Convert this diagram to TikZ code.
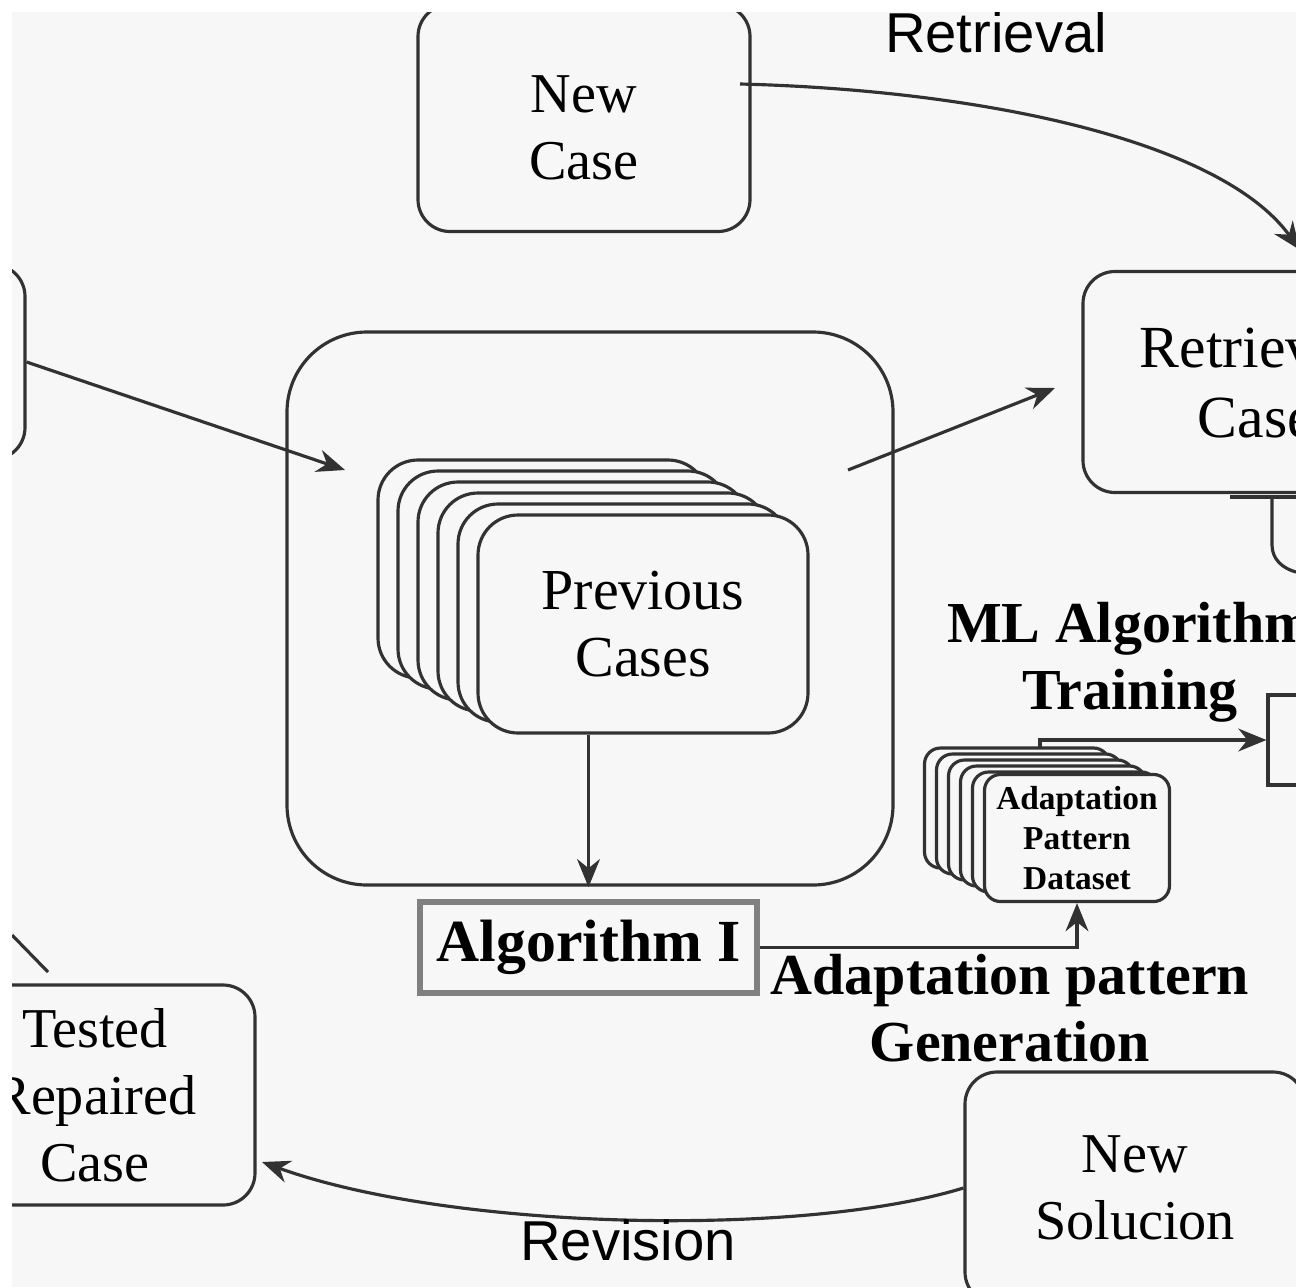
\documentclass[tikz,border=0pt]{standalone}
\usepackage{fontspec}
\setmainfont{Liberation Serif}
\newfontfamily\stagefont{Liberation Sans}
\usepackage{tikz}
\usetikzlibrary{arrows}
\usetikzlibrary{arrows.meta}
\pgfdeclarelayer{background}
\pgfdeclarelayer{edgelayer}
\pgfdeclarelayer{nodelayer}
\pgfsetlayers{background,edgelayer,nodelayer,main}
\definecolor{paper}{RGB}{247,247,247}
\definecolor{ink}{RGB}{50,50,50}
\tikzstyle{none}=[inner sep=0pt]
\tikzstyle{case}=[draw=ink, line width=0.9pt, rounded corners=0.32cm, align=center, font=\fontsize{16}{19}\selectfont]
\tikzstyle{sheet}=[case, fill=paper, minimum width=3.3cm, minimum height=2.18cm, rounded corners=0.4cm, font=\fontsize{16.5}{19}\selectfont]
\tikzstyle{smallsheet}=[case, fill=paper, minimum width=1.85cm, minimum height=1.2cm, rounded corners=0.16cm, font=\fontsize{9.5}{11.4}\selectfont\bfseries]
\tikzstyle{algo}=[draw=gray, line width=1.6pt, minimum width=3.37cm, minimum height=0.91cm, font=\fontsize{17}{20}\selectfont\bfseries]
\tikzstyle{stage}=[inner sep=0pt, font=\stagefont\fontsize{16}{19}\selectfont]
\tikzstyle{boldtext}=[inner sep=0pt, align=center, font=\fontsize{16.5}{19}\selectfont\bfseries]
\tikzstyle{plaintext}=[inner sep=0pt, align=center, font=\fontsize{16}{19}\selectfont]
\tikzstyle{flow}=[draw=ink, line width=0.9pt, -{Stealth[length=8pt,width=6.5pt]}]
\tikzstyle{wire}=[draw=ink, line width=0.9pt]

\begin{document}
\begin{tikzpicture}
	\useasboundingbox (0,0) rectangle (12.96,-12.87);
	\begin{pgfonlayer}{background}
		\fill [white] (0,0) rectangle (12.96,-12.87);
		\fill [paper] (0.12,-0.12) rectangle (12.96,-12.87);
	\end{pgfonlayer}
	\begin{pgfonlayer}{nodelayer}
		\node [style=case, minimum width=2.5cm, minimum height=1.95cm] (0) at (-1.0,-3.62) {};
		\node [style=case, minimum width=3.32cm, minimum height=2.27cm] (1) at (5.84,-1.18) {};
		\node [style=plaintext] (38) at (5.84,-1.28) {New\\Case};
		\node [style=case, minimum width=3.46cm, minimum height=2.21cm, font=\fontsize{17}{20}\selectfont] (2) at (12.56,-3.82) {Retrieved\\Case};
		\node [style=case, minimum width=6.06cm, minimum height=5.53cm, rounded corners=0.8cm] (3) at (5.90,-6.085) {};
		\node [style=sheet] (4) at (5.43,-5.69) {};
		\node [style=sheet] (5) at (5.63,-5.80) {};
		\node [style=sheet] (6) at (5.83,-5.91) {};
		\node [style=sheet] (7) at (6.03,-6.02) {};
		\node [style=sheet] (8) at (6.23,-6.13) {};
		\node [style=sheet] (9) at (6.43,-6.24) {Previous\\Cases};
		\node [style=algo] (10) at (5.885,-9.475) {Algorithm I};
		\node [style=smallsheet] (11) at (10.17,-8.08) {};
		\node [style=smallsheet] (12) at (10.29,-8.14) {};
		\node [style=smallsheet] (13) at (10.41,-8.20) {};
		\node [style=smallsheet] (14) at (10.53,-8.26) {};
		\node [style=smallsheet] (15) at (10.65,-8.32) {};
		\node [style=smallsheet] (16) at (10.77,-8.38) {Adaptation\\Pattern\\Dataset};
		\node [style=case, rounded corners=0pt, minimum width=1.24cm, minimum height=0.9cm] (17) at (13.30,-7.40) {};
		\node [style=case, minimum width=3.2cm, minimum height=2.2cm] (18) at (0.95,-10.95) {Tested\\Repaired\\Case};
		\node [style=case, minimum width=3.4cm, minimum height=2.32cm] (19) at (11.35,-11.88) {New\\Solucion};
		\node [style=stage] (20) at (9.96,-0.32) {Retrieval};
		\node [style=stage] (21) at (6.28,-12.40) {Revision};
		\node [style=boldtext] (22) at (11.30,-6.62) {ML Algorithm\\Training};
		\node [style=boldtext] (23) at (10.10,-10.08) {Adaptation pattern\\Generation};
		\node [style=none] (24) at (3.45,-4.70) {};
		\node [style=none] (25) at (8.48,-4.70) {};
		\node [style=none] (26) at (10.55,-3.88) {};
		\node [style=none] (27) at (13.00,-2.50) {};
		\node [style=none] (28) at (10.40,-7.52) {};
		\node [style=none] (30) at (2.62,-11.62) {};
		\node [style=none] (31) at (0.12,-9.35) {};
		\node [style=none] (32) at (0.48,-9.72) {};
		\node [style=none] (33) at (7.40,-0.84) {};
		\node [style=none] (34) at (12.30,-4.97) {};
		\node [style=none] (35) at (12.96,-4.97) {};
		\node [style=none] (36) at (12.72,-4.97) {};
		\node [style=none] (37) at (12.96,-5.72) {};
	\end{pgfonlayer}
	\begin{pgfonlayer}{edgelayer}
		\draw [style=flow] (0.east) to (24.center);
		\draw [style=flow] (25.center) to (26.center);
		\draw [style=flow] (33.center) .. controls (9.8,-0.9) and (12.2,-1.4) .. (27.center);
		\draw [style=flow, shorten >=0.12cm] (10.north |- 9.south) to (10.north);
		\draw [style=flow] (10.east) -| (16.south);
		\draw [style=flow] (28.center) |- (17.west);
		\draw [style=flow] (19.west) .. controls (8.0,-12.38) and (4.5,-12.3) .. (30.center);
		\draw [style=wire] (31.center) to (32.center);
		\draw [style=wire] (34.center) to (35.center);
		\draw [style=wire] (36.center) -- ++(0,-0.48) to [out=-90, in=165] (37.center);
	\end{pgfonlayer}
	\fill [white] (0,0) rectangle (0.12,-12.87);
	\fill [white] (0,0) rectangle (12.96,-0.12);
\end{tikzpicture}
\end{document}
